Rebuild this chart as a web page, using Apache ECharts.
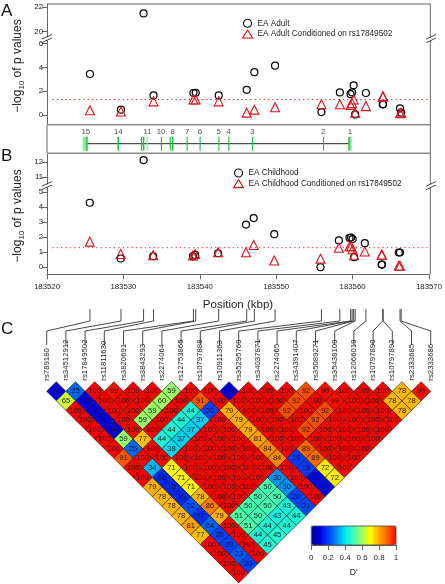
<!DOCTYPE html>
<html><head><meta charset="utf-8">
<style>html,body{margin:0;padding:0;background:#fff}#c{width:445px;height:584px}</style>
<script src="https://cdn.jsdelivr.net/npm/echarts@6/dist/echarts.min.js"></script>
</head><body><div id="c"></div>
<script>
// ---------- data ----------
const snpNames = ['rs789180','rs34512912','rs17849502','rs11811630','rs3820691','rs3843293','rs2274064','rs12753865','rs10797888','rs10911363','rs35295769','rs34037871','rs2274065','rs34391407','rs35089271','rs35438109','rs12066019','rs10797890','rs10797892','rs2333685','rs2333686'];
const snpPositions = [183525.6,183529.65,183532.6,183533.9,183539.1,183539.4,183542.4,183546.05,183547.05,183549.75,183555.8,183558.2,183559.6,183559.8,183560.0,183560.2,183561.6,183563.8,183563.85,183566.05,183566.2];
const adultP = [3.45,0.45,21.5,1.65,1.85,1.87,1.65,2.12,3.6,4.15,0.25,1.9,1.75,1.9,2.5,0.05,1.85,0.9,0.9,0.55,0.2];
const adultCond = [0.4,0.3,null,1.15,1.3,1.3,1.15,0.2,0.45,0.65,0.9,0.9,0.85,1.0,1.3,0.2,0.75,1.55,1.55,0.15,0.2];
const childP = [4.29,0.58,12.15,0.73,0.72,0.82,0.93,2.84,3.27,2.2,0,1.78,1.95,1.97,1.87,0.67,1.6,0.18,0.18,0.98,0.98];
const childCond = [1.7,0.88,null,0.8,0.78,0.88,1,1,1.48,0.45,0.57,1.3,1.4,1.4,1.2,0.8,1.05,0.83,0.83,0.1,0.1];
const threshold = 1.3;
const geneSpan = [183525.3,183559.4];
const exonsDark = [[183525.1,183525.3],[183529.2,183529.4],[183532.25,183532.4],[183532.5,183532.7],[183534.85,183535.0],[183536.0,183536.15],[183536.3,183536.5],[183538.2,183538.3],[183539.9,183540.0],[183542.35,183542.45],[183543.65,183543.8],[183546.75,183546.85],[183556.0,183556.1],[183559.3,183559.5]];
const exonsLight = [[183524.65,183525.1],[183533.0,183533.15],[183559.5,183559.75]];
const exonLabels = ['15','14','11','10','8','7','6','5','4','3','2','1'];
const exonLabelPos = [183525.05,183529.3,183533.1,183534.87,183536.4,183538.3,183539.96,183542.4,183543.7,183546.78,183556.04,183559.52];
// D' (x100), one list per LD row: row n pairs SNP i with SNP i+n
const ldRows = [
[10,25,100,99,100,100,59,100,100,10,100,100,100,92,99,100,100,100,78,99],
[65,10,100,100,100,60,100,91,100,100,100,100,92,100,99,100,100,78,78],
[100,9,100,100,59,100,44,20,79,100,100,92,100,92,100,100,100,78],
[100,9,100,59,100,44,37,100,79,100,100,100,92,100,100,100,100],
[100,8,100,100,44,37,100,100,79,100,100,92,100,100,100,100],
[100,59,77,44,37,100,100,100,81,100,100,100,100,100,100],
[100,25,100,38,100,100,100,100,84,100,89,100,100,100],
[91,100,100,100,100,100,100,100,84,19,89,100,100],
[100,34,71,100,100,100,100,100,100,19,72,100],
[100,16,71,100,100,100,100,30,100,11,72],
[79,16,71,100,100,100,50,30,100,12],
[78,16,78,100,100,50,50,20,100],
[78,22,86,100,50,50,43,21],
[78,17,79,51,50,43,44],
[81,24,100,51,44,44],
[77,20,100,44,45],
[100,20,100,45],
[100,23,100],
[100,20],
[100]];
const xTickStep = 10;
const adultTicksTop = [20,22], adultTicksBottom = [0,2,4,6];
const childTicksTop = [11,12], childTicksBottom = [0,1,2,3,4,5];
const legendColors = ['#00008b','#0000e0','#0040ff','#0090f0','#00ecf0','#40ffb0','#a0ff60','#ffff00','#ffa500','#ff6000','#ff0000'];

// ---------- layout ----------
const FONT = '"Liberation Sans", Arial, sans-serif';
const TXT = '#222', FRAME = '#666', RED = '#d8141c';
const XMIN = 183520, XMAX = 183570, PL = 47, PW = 383.3;
const LDL = 46.7, LDSTEP = 19.2;
const grids = [
  {left:PL,width:PW,top:4,height:33},       // A upper
  {left:PL,width:PW,top:40.7,height:84},    // A lower
  {left:PL,width:PW,top:124.7,height:28.6}, // gene
  {left:PL,width:PW,top:153.3,height:30.7}, // B upper
  {left:PL,width:PW,top:187.7,height:86.6}, // B lower
  {left:LDL,width:LDSTEP*20,top:309,height:36}, // connectors
  {left:LDL,width:LDSTEP*20,top:381.7,height:201.2}, // LD
  {left:311.3,width:84.7,top:526,height:19}  // colour bar axis
].map(g=>Object.assign({containLabel:false},g));

const baseX = g => ({type:'value',gridIndex:g,min:XMIN,max:XMAX,show:false});
const tickStyle = {show:true,length:5,lineStyle:{color:FRAME,width:1}};
const xAxes = [baseX(0),baseX(1),baseX(2),baseX(3),
  {type:'value',gridIndex:4,min:XMIN,max:XMAX,interval:xTickStep,
   axisLine:{show:true,onZero:false,lineStyle:{color:FRAME,width:1}},axisTick:tickStyle,splitLine:{show:false},
   axisLabel:{color:TXT,fontSize:7.8,fontFamily:FONT,margin:9,formatter:v=>String(v)},
   name:'Position (kbp)',nameLocation:'middle',nameGap:25,nameTextStyle:{color:TXT,fontSize:11.5,fontFamily:FONT}},
  {type:'value',gridIndex:5,min:0,max:20,show:false},
  {type:'value',gridIndex:6,min:0,max:20,interval:1,position:'top',axisLine:{show:false},axisTick:{show:false},splitLine:{show:false},
   axisLabel:{rotate:90,margin:1,color:TXT,fontSize:7.8,fontFamily:FONT,formatter:v=>snpNames[v]}},
  {type:'value',gridIndex:7,min:0,max:1,interval:0.2,axisLine:{show:true,onZero:false,lineStyle:{color:FRAME}},axisTick:{show:true,length:5,lineStyle:{color:FRAME}},splitLine:{show:false},
   axisLabel:{color:TXT,fontSize:8,fontFamily:FONT,margin:9},name:"D'",nameLocation:'middle',nameGap:23,nameTextStyle:{color:TXT,fontSize:8.5,fontFamily:FONT}}
];
const valY = (g,min,max,ticks) => ({type:'value',gridIndex:g,min,max,
  axisLine:{show:true,onZero:false,lineStyle:{color:FRAME,width:1}},
  axisTick:Object.assign({customValues:ticks},tickStyle),splitLine:{show:false},
  axisLabel:{customValues:ticks,color:TXT,fontSize:7.8,fontFamily:FONT,margin:4,formatter:v=>String(v)}});
const yAxes = [
  valY(0,19.57,22.27,adultTicksTop),
  valY(1,-0.815,6.25,adultTicksBottom),
  {type:'value',gridIndex:2,min:0,max:1,show:false},
  valY(3,10.55,12.6,childTicksTop),
  valY(4,-0.47,5.29,childTicksBottom),
  {type:'value',gridIndex:5,min:0,max:36,inverse:true,show:false},
  {type:'value',gridIndex:6,min:0,max:21,inverse:true,show:false},
  {type:'value',gridIndex:7,min:0,max:1,show:false}
];

const zipPts = (vals,test) => vals.map((v,i)=>[snpPositions[i],v]).filter(p=>p[1]!==null&&test(p[1]));
const circleStyle = {color:'rgba(0,0,0,0)',borderColor:'#000',borderWidth:1.2,opacity:1};
const triStyle = {color:'rgba(0,0,0,0)',borderColor:RED,borderWidth:1.1,opacity:1};
const scat = (name,g,pts,isTri) => ({name,type:'scatter',xAxisIndex:g,yAxisIndex:g,data:pts,silent:true,
  symbol:isTri?'triangle':'circle',symbolSize:isTri?9:7,itemStyle:isTri?triStyle:circleStyle,z:isTri?4:3});
const threshLine = g => ({type:'line',xAxisIndex:g,yAxisIndex:g,silent:true,symbol:'none',
  data:[[XMIN+0.7,threshold],[XMAX,threshold]],lineStyle:{color:RED,width:1,type:[1.2,3.2]},z:2});
const nameAdult='EA Adult', nameAdultC='EA Adult Conditioned on rs17849502';
const nameChild='EA Childhood', nameChildC='EA Childhood Conditioned on rs17849502';
const hi = v=>v>=10, lo = v=>v<10;

const exonSeries = (ranges,color) => ({type:'custom',xAxisIndex:2,yAxisIndex:2,silent:true,z:3,data:ranges,
  encode:{x:[0,1]},
  renderItem:(p,api)=>{
    const a=api.coord([api.value(0),0.58]), b=api.coord([api.value(1),0.09]);
    return {type:'rect',shape:{x:a[0],y:a[1],width:Math.max(b[0]-a[0],1.1),height:b[1]-a[1]},style:{fill:color}};
  }});

const ldData = [];
ldRows.forEach((row,n)=>row.forEach((v,i)=>ldData.push([i+(n+1)/2,n+1,v])));
const genomeToIdx = k => ((k-XMIN)/(XMAX-XMIN)*PW+PL-LDL)/LDSTEP;
const connData = snpPositions.map((k,i)=>[i,genomeToIdx(k)]);

const series = [
  threshLine(1), threshLine(4),
  scat(nameAdult,0,zipPts(adultP,hi),false), scat(nameAdult,1,zipPts(adultP,lo),false),
  scat(nameAdultC,1,zipPts(adultCond,lo),true),
  scat(nameChild,3,zipPts(childP,hi),false), scat(nameChild,4,zipPts(childP,lo),false),
  scat(nameChildC,4,zipPts(childCond,lo),true),
  {type:'line',xAxisIndex:2,yAxisIndex:2,silent:true,symbol:'none',z:2,data:[[geneSpan[0],0.336],[geneSpan[1],0.336]],lineStyle:{color:'#222',width:1}},
  exonSeries(exonsLight,'#8fe89a'), exonSeries(exonsDark,'#19bf3c'),
  {type:'scatter',xAxisIndex:2,yAxisIndex:2,silent:true,symbolSize:0,data:exonLabelPos.map((x,i)=>[x,0.74,exonLabels[i]]),
   label:{show:true,position:'inside',formatter:p=>p.value[2],color:TXT,fontSize:7.8,fontFamily:FONT}},
  {type:'custom',xAxisIndex:5,yAxisIndex:5,silent:true,data:connData,encode:{x:[0,1]},clip:false,
   renderItem:(p,api)=>{
     const lab=api.value(0), gen=api.value(1);
     return {type:'polyline',shape:{points:[api.coord([gen,0]),api.coord([gen,12]),api.coord([lab,22]),api.coord([lab,36])]},
       style:{stroke:'#333',lineWidth:0.9,fill:null}};
   }},
  {id:'ld',type:'custom',xAxisIndex:6,yAxisIndex:6,silent:true,data:ldData,encode:{x:0,y:1},
   renderItem:(p,api)=>{
     const x=api.value(0), r=api.value(1), v=api.value(2);
     const c=api.coord([x,r]);
     return {type:'group',children:[
       {type:'polygon',shape:{points:[api.coord([x-0.5,r]),api.coord([x,r-1]),api.coord([x+0.5,r]),api.coord([x,r+1])]},
        style:{fill:api.visual('color'),stroke:'#151515',lineWidth:0.6}},
       {type:'text',x:c[0],y:c[1],style:{text:String(v),fill:'#181818',fontSize:7.6,fontFamily:FONT,align:'center',verticalAlign:'middle'},z2:5}
     ]};
   }},
  {type:'scatter',xAxisIndex:7,yAxisIndex:7,data:[],silent:true}
];

// frame, gene-panel rules and axis-break marks
const ln=(x1,y1,x2,y2,c,w)=>({type:'line',silent:true,z:20,shape:{x1,y1,x2,y2},style:{stroke:c||FRAME,lineWidth:w||1}});
const RX=PL+PW;
const breakMarks = cy => [
  ln(41.7,cy+2.6,52,cy-2.1,'#333',0.9), ln(41.7,cy+6.1,52,cy+1.4,'#333',0.9),
  ln(426,cy+2.6,436,cy-2.1,'#333',0.9), ln(426,cy+6.1,436,cy+1.4,'#333',0.9)];
const panelLetter=(t,y)=>({type:'text',silent:true,x:1,y,style:{text:t,fill:'#111',fontSize:17,fontFamily:FONT,verticalAlign:'middle'}});
const yTitle=(y)=>({type:'text',silent:true,x:17.5,y,rotation:Math.PI/2,z:20,style:{
  text:'{a|\u2212log}{s|10}{a| of p values}',align:'center',verticalAlign:'middle',fill:TXT,
  rich:{a:{fontSize:12,fontFamily:FONT,fill:TXT,lineHeight:16},s:{fontSize:8,fontFamily:FONT,fill:TXT,verticalAlign:'bottom',lineHeight:13}}}});
const graphic = [
  ln(PL,4,RX,4), ln(RX,4,RX,37), ln(RX,40.7,RX,184), ln(RX,187.7,RX,274.3),
  ln(PL,124.7,PL,153.3), ln(PL,124.7,RX,124.7,'#8a8a8a',1.4), ln(PL,153.3,RX,153.3,'#8a8a8a',1.4),
  ...breakMarks(36.6), ...breakMarks(183.6),
  panelLetter('A',11), panelLetter('B',156), panelLetter('C',329.5),
  yTitle(66), yTitle(216),
  {type:'rect',silent:true,z:20,shape:{x:311.3,y:526,width:84.7,height:19},style:{fill:null,stroke:'#444',lineWidth:0.8}}
];

const legendOf=(data,left,top)=>({data,left,top,orient:'vertical',padding:0,itemWidth:10,itemHeight:8,itemGap:1.6,selectedMode:false,
  textStyle:{color:TXT,fontSize:8.2,fontFamily:FONT,padding:[0,0,0,0]},itemStyle:{borderWidth:1.1}});

const chart = echarts.init(document.getElementById('c'),null,{renderer:'canvas',width:445,height:584});
chart.setOption({
  animation:false,backgroundColor:'#fff',tooltip:{show:false},
  grid:grids,xAxis:xAxes,yAxis:yAxes,series,graphic,
  legend:[legendOf([nameAdult,nameAdultC],242,18.7),legendOf([nameChild,nameChildC],233,168.4)],
  visualMap:{type:'continuous',seriesId:'ld',dimension:2,min:0,max:100,orient:'horizontal',left:311.3,top:526,
    itemWidth:19,itemHeight:84.7,padding:0,calculable:false,hoverLink:false,text:null,showLabel:false,
    textStyle:{fontSize:0},inRange:{color:legendColors}}
});
</script></body></html>
